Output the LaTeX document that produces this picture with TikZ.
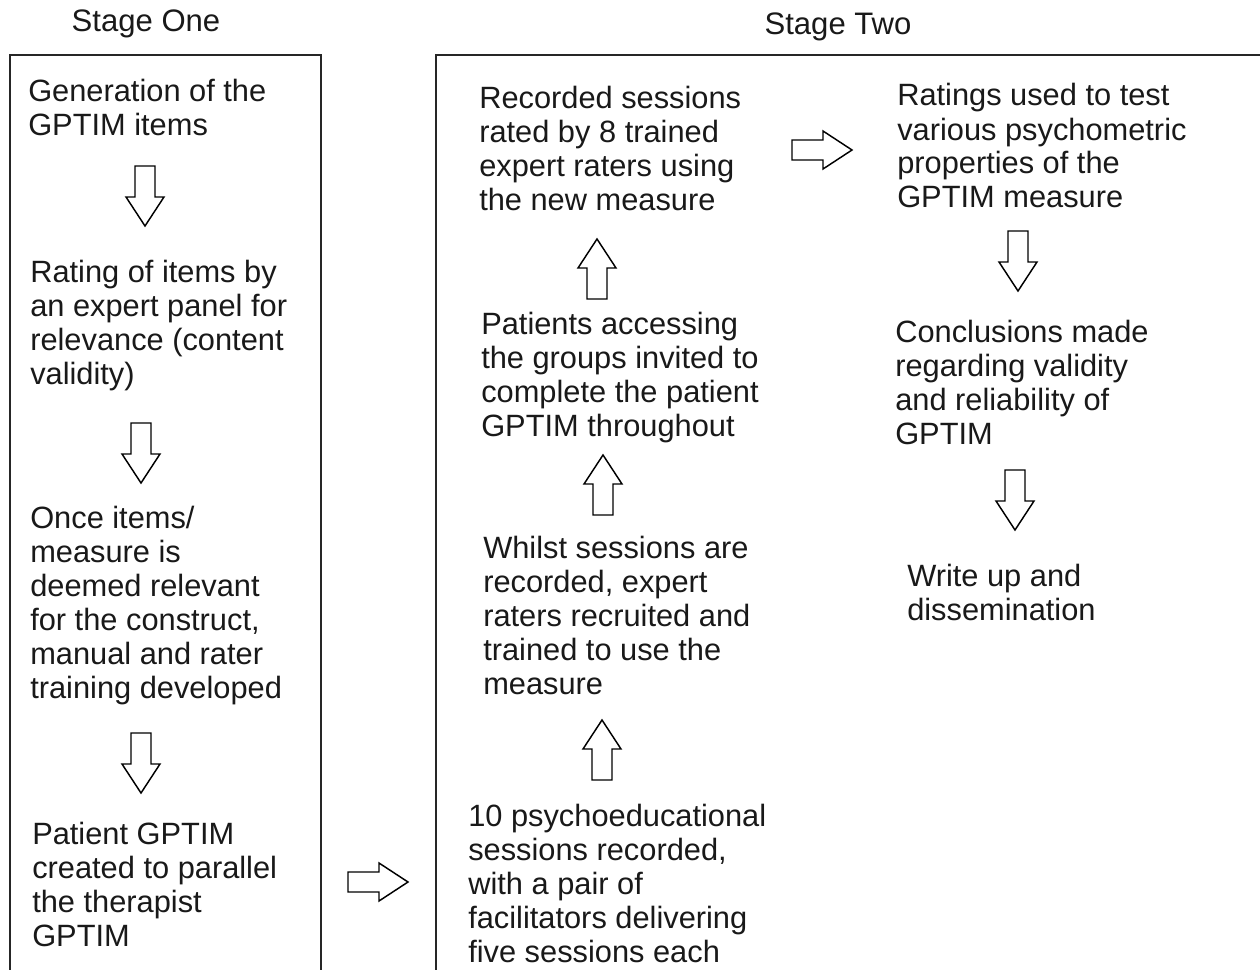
\documentclass[tikz,border=0pt]{standalone}
\usepackage{fontspec}
\setmainfont{Liberation Sans}
\tikzset{
  x=0.75pt, y=-0.75pt,
  txt/.style={anchor=base west, inner sep=0pt, align=left, font=\fontsize{23.1}{25.5}\selectfont, text=black!90},
  ttl/.style={anchor=base, inner sep=0pt, font=\fontsize{23.3}{25.5}\selectfont, text=black!90},
  frame/.style={draw=black!85, line width=1.5pt},
  barrow/.pic={
    \draw[line width=1.1pt, line join=miter, fill=white]
      (-30,-10) -- (1,-10) -- (1,-19) -- (30,0) -- (1,19) -- (1,10) -- (-30,10) -- cycle;
    \coordinate (-tip) at (30,0);
    \coordinate (-tail) at (-30,0);
  }
}
\begin{document}
\begin{tikzpicture}
\useasboundingbox (0,0) rectangle (1260,970);
\fill[white] (0,0) rectangle (1260,970);
% frames
\draw[frame] (10,972) -- (10,55) -- (321,55) -- (321,972);
\draw[frame] (436,972) -- (436,55) -- (1262,55);
% titles
\node[ttl] (t1) at (146,32) {Stage One};
\node[ttl] (t2) at (838,35) {Stage Two};
% stage one
\node[txt] (l1) at (28,136) {Generation of the\\GPTIM items};
\node[txt] (l2) at (30,384) {Rating of items by\\an expert panel for\\relevance (content\\validity)};
\node[txt] (l3) at (30,698) {Once items/\\measure is\\deemed relevant\\for the construct,\\manual and rater\\training developed};
\node[txt] (l4) at (32,946) {Patient GPTIM\\created to parallel\\the therapist\\GPTIM};
% stage two middle
\node[txt] (m1) at (468,962) {10 psychoeducational\\sessions recorded,\\with a pair of\\facilitators delivering\\five sessions each};
\node[txt] (m2) at (483,694) {Whilst sessions are\\recorded, expert\\raters recruited and\\trained to use the\\measure};
\node[txt] (m3) at (481,436) {Patients accessing\\the groups invited to\\complete the patient\\GPTIM throughout};
\node[txt] (m4) at (479,210) {Recorded sessions\\rated by 8 trained\\expert raters using\\the new measure};
% stage two right
\node[txt] (r1) at (897,208) {Ratings used to test\\various psychometric\\properties of the\\GPTIM measure};
\node[txt] (r2) at (895,444) {Conclusions made\\regarding validity\\and reliability of\\GPTIM};
\node[txt] (r3) at (907,620) {Write up and\\dissemination};
% block arrows
\pic[rotate=-90] (a1) at (145,196) {barrow};
\pic[rotate=-90] (a2) at (141,453) {barrow};
\pic[rotate=-90] (a3) at (141,763) {barrow};
\pic (a4) at (378,882) {barrow};
\pic[rotate=90] (a5) at (602,750) {barrow};
\pic[rotate=90] (a6) at (603,485) {barrow};
\pic[rotate=90] (a7) at (597,269) {barrow};
\pic (a8) at (822,150) {barrow};
\pic[rotate=-90] (a9) at (1018,261) {barrow};
\pic[rotate=-90] (a10) at (1015,500) {barrow};
\end{tikzpicture}
\end{document}
